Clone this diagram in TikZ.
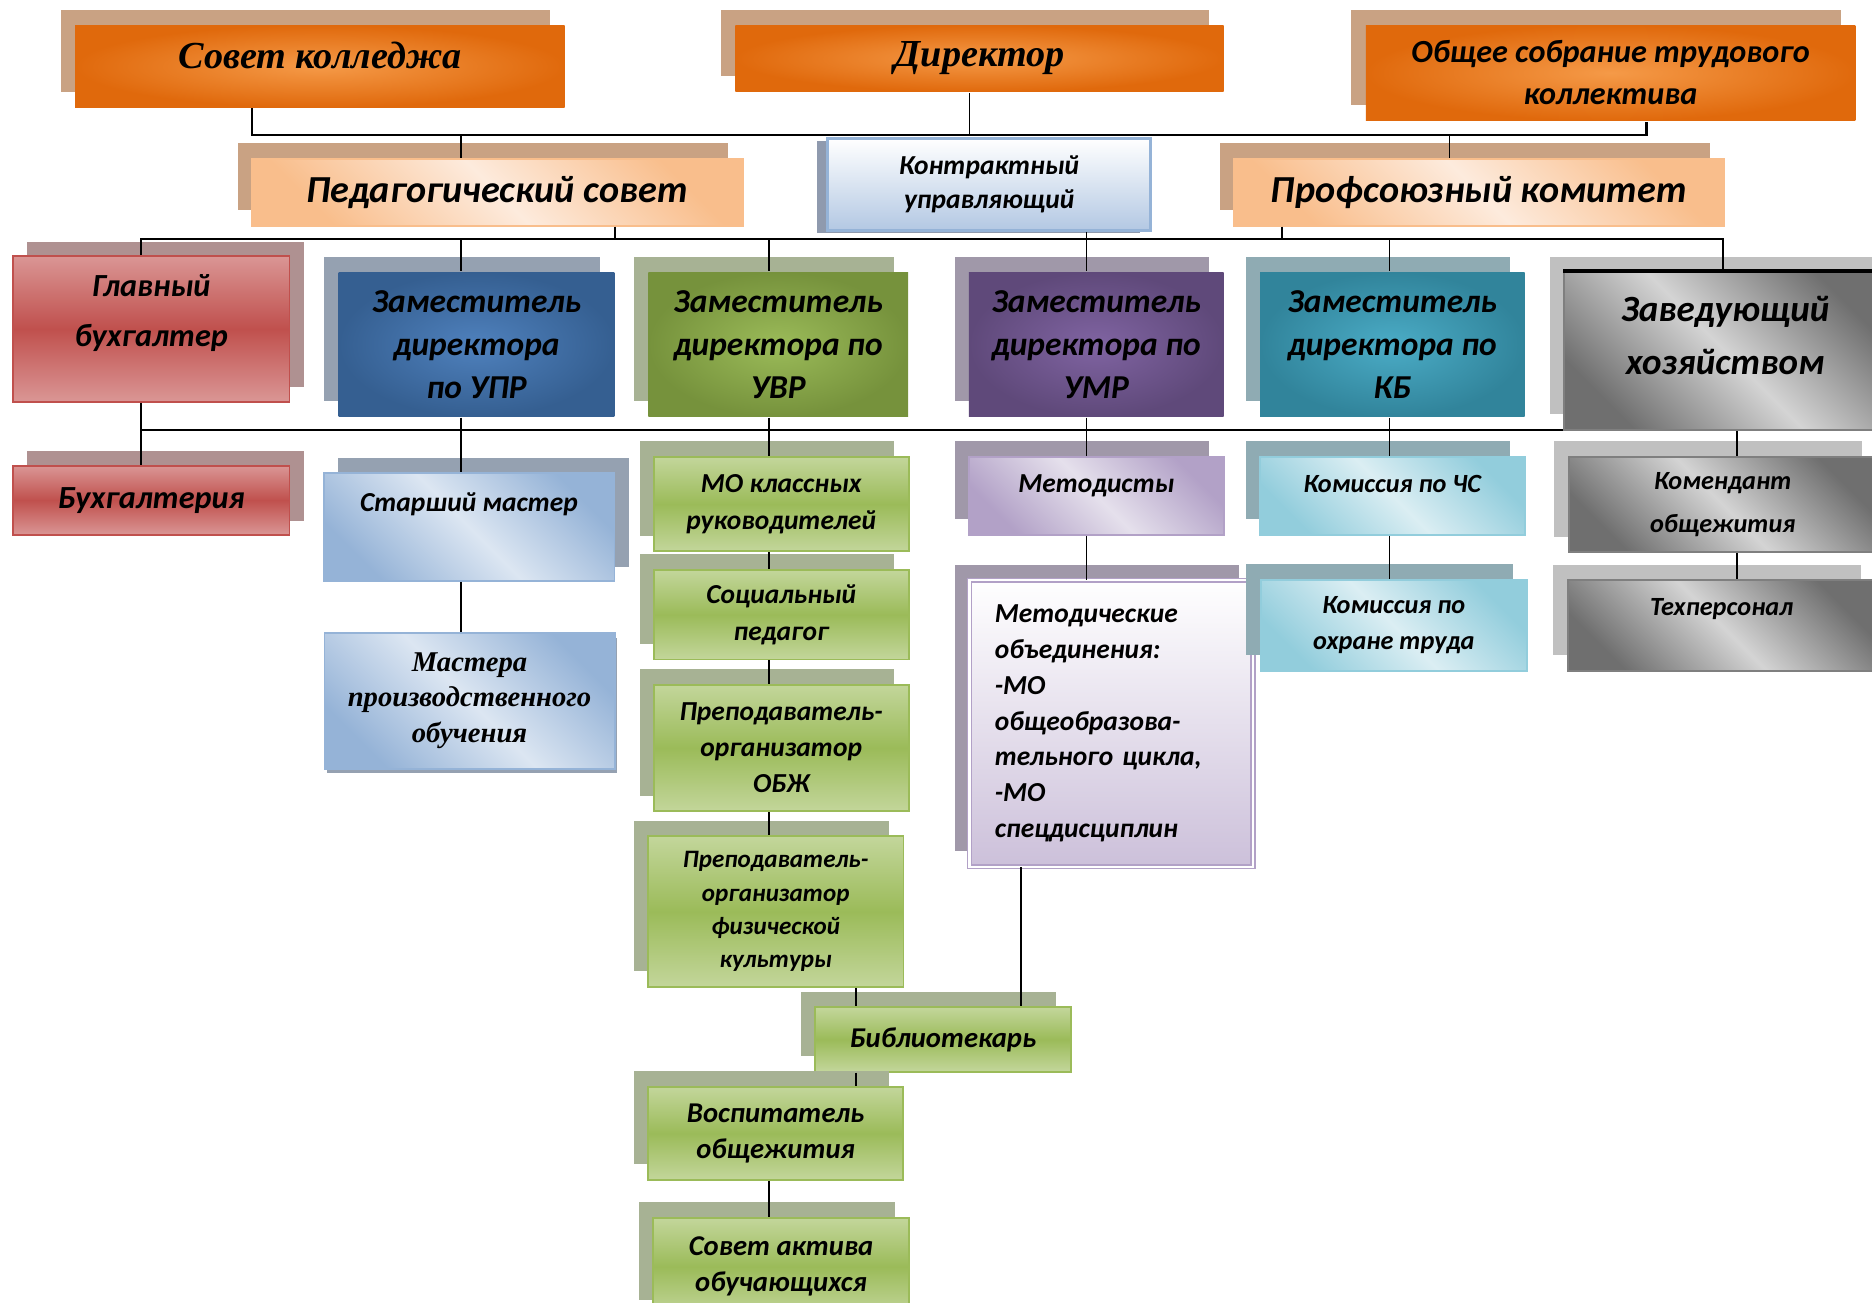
\documentclass[tikz,border=0pt]{standalone}
\usepackage{fontspec}
\setmainfont{Carlito}
\newfontfamily\serifbi{Liberation Serif}
\usetikzlibrary{shadows}
\definecolor{orangedark}{HTML}{E0690C}
\definecolor{orangelight}{HTML}{F59A48}
\definecolor{tan}{HTML}{C9A283}
\definecolor{peach}{HTML}{F9BE8C}
\definecolor{peachlight}{HTML}{FDEBDD}
\definecolor{ctrblue}{HTML}{B3C8E3}
\definecolor{ctredge}{HTML}{95B3D7}
\definecolor{ctrshadow}{HTML}{8F9AAE}
\definecolor{reddark}{HTML}{C0504D}
\definecolor{redlight}{HTML}{DA9695}
\definecolor{redshadow}{HTML}{AF9191}
\definecolor{bluedark}{HTML}{355F91}
\definecolor{bluemid}{HTML}{4F81BD}
\definecolor{blueshadow}{HTML}{95A1B1}
\definecolor{bluepale}{HTML}{DCE6F2}
\definecolor{bluesoft}{HTML}{95B3D7}
\definecolor{greendark}{HTML}{76923C}
\definecolor{greenmid}{HTML}{9BBB59}
\definecolor{greenpale}{HTML}{C3D69B}
\definecolor{greenshadow}{HTML}{A7B294}
\definecolor{purpledark}{HTML}{5F497A}
\definecolor{purplemid}{HTML}{8064A2}
\definecolor{purplepale}{HTML}{E5E0EC}
\definecolor{lavender}{HTML}{B2A1C7}
\definecolor{purpleshadow}{HTML}{A098A9}
\definecolor{metlow}{HTML}{CCC0DA}
\definecolor{tealdark}{HTML}{31849B}
\definecolor{tealmid}{HTML}{4BACC6}
\definecolor{tealpale}{HTML}{DBEEF3}
\definecolor{tealsoft}{HTML}{92CDDC}
\definecolor{tealshadow}{HTML}{8FABB3}
\definecolor{greydark}{HTML}{6F6F6F}
\definecolor{greylight}{HTML}{D4D4D4}
\definecolor{greyshadow}{HTML}{C0C0C0}
\definecolor{greyedge}{HTML}{7F7F7F}
\tikzset{
  sz/.style 2 args={
    font=\fontsize{#1}{#2}\selectfont\bfseries\itshape
  },
  serif/.style 2 args={
    font=\fontsize{#1}{#2}\selectfont\serifbi\bfseries\itshape
  },
  box/.style={
    inner sep=0pt,
    align=center,
    line width=1.6pt
  },
  upshadow/.style={
    general shadow={fill=#1, shadow xshift=-12pt, shadow yshift=13pt}
  },
  rightshadow/.style={
    general shadow={fill=#1, shadow xshift=12pt, shadow yshift=12pt}
  },
  topbox/.style={
    box,
    inner color=orangelight,
    outer color=orangedark,
    upshadow=tan
  },
  councilbox/.style={
    box,
    draw=peach,
    left color=peach,
    right color=peach,
    middle color=peachlight,
    shading angle=-45,
    upshadow=tan
  },
  managerbox/.style={
    box,
    draw=ctredge,
    line width=2.5pt,
    top color=white,
    bottom color=ctrblue,
    general shadow={fill=ctrshadow, shadow xshift=-9pt, shadow yshift=-2pt}
  },
  redbox/.style={
    box,
    draw=reddark,
    top color=redlight,
    bottom color=redlight,
    middle color=reddark,
    rightshadow=redshadow
  },
  deputy/.style n args={3}{
    box,
    inner color=#1,
    outer color=#2,
    upshadow=#3
  },
  softbox/.style 2 args={
    box,
    draw=#1,
    left color=#1,
    right color=#1,
    middle color=#2,
    shading angle=-45
  },
  greenbox/.style={
    box,
    draw=greenmid,
    top color=greenpale,
    bottom color=greenpale,
    middle color=greenmid,
    upshadow=greenshadow
  },
  greybox/.style={
    box,
    draw=greyedge,
    left color=greydark,
    right color=greydark,
    middle color=greylight,
    shading angle=-45,
    upshadow=greyshadow
  },
  conn/.style={
    draw=black,
    line width=1.3pt
  },
  bar/.style={
    draw=black,
    line width=2pt
  }
}

\begin{document}
\begin{tikzpicture}[x=1pt, y=-1pt]
  \clip (0,0) rectangle (1568,1091);

  % governing bodies
  \node[topbox, serif={32}{38}, minimum width=410pt, minimum height=69pt, text depth=19pt] (sovet) at (268,55.5) {Совет колледжа};
  \node[topbox, serif={32}{38}, minimum width=409pt, minimum height=56pt] (director) at (820.5,49) {Директор};
  \node[topbox, sz={27}{35}, minimum width=410pt, minimum height=80pt] (obshee) at (1349,61) {Общее собрание трудового\\коллектива};

  \node[councilbox, sz={32}{38}, minimum width=411pt, minimum height=56pt] (pedsovet) at (416.5,161) {Педагогический совет};
  \node[managerbox, sz={23}{28}, minimum width=271pt, minimum height=77pt] (manager) at (828.5,154.5) {Контрактный\\управляющий};
  \node[councilbox, sz={32}{38}, minimum width=410.5pt, minimum height=56pt] (profkom) at (1238.75,161) {Профсоюзный комитет};

  % deputies
  \node[redbox, sz={27}{42}, minimum width=231.5pt, minimum height=122pt, text depth=30pt] (glbuh) at (126.75,275.4) {Главный\\бухгалтер};
  \node[deputy={bluemid}{bluedark}{blueshadow}, sz={28}{36}, minimum width=231pt, minimum height=121pt] (upr) at (399.2,288.5) {Заместитель\\директора\\по УПР};
  \node[deputy={greenmid}{greendark}{greenshadow}, sz={28}{36}, minimum width=217.7pt, minimum height=121pt] (uvr) at (651.85,288.5) {Заместитель\\директора по\\УВР};
  \node[deputy={purplemid}{purpledark}{purpleshadow}, sz={28}{36}, minimum width=213.4pt, minimum height=121pt] (umr) at (918.3,288.5) {Заместитель\\директора по\\УМР};
  \node[deputy={tealmid}{tealdark}{tealshadow}, sz={28}{36}, minimum width=221.5pt, minimum height=121pt] (kb) at (1166.25,288.5) {Заместитель\\директора по\\КБ};
  \node[greybox, sz={31}{44}, minimum width=270pt, minimum height=132pt, text depth=26pt] (zavhoz) at (1445,294) {Заведующий\\хозяйством};
  \draw[line width=3pt] (zavhoz.north west) -- (zavhoz.north east);

  % departments
  \node[redbox, sz={27}{34}, minimum width=231.5pt, minimum height=58pt] (buh) at (126.75,419) {Бухгалтерия};
  \node[softbox={bluesoft}{bluepale}, rightshadow=blueshadow, sz={23}{30}, minimum width=243.7pt, minimum height=90.6pt, text depth=42pt] (stmaster) at (392.85,441.3) {Старший мастер};
  \node[softbox={bluesoft}{bluepale}, general shadow={fill=blueshadow, shadow xshift=2pt, shadow yshift=-4pt}, serif={24}{30}, minimum width=243pt, minimum height=113.7pt] (mastera) at (393.3,586.9) {Мастера\\производственного\\обучения};

  \node[greenbox, sz={23}{31}, minimum width=213.3pt, minimum height=79pt] (mokl) at (654.35,422.3) {МО классных\\руководителей};
  \node[greenbox, sz={23}{31}, minimum width=213.3pt, minimum height=75pt] (socped) at (654.35,514.9) {Социальный\\педагог};
  \node[greenbox, sz={23}{30}, minimum width=213.3pt, minimum height=106.2pt] (obzh) at (654.35,626.5) {Преподаватель-\\организатор\\ОБЖ};
  \node[greenbox, sz={21}{28}, minimum width=214.1pt, minimum height=126.2pt] (fk) at (649.75,763.6) {Преподаватель-\\организатор\\физической\\культуры};
  \node[greenbox, sz={24}{30}, minimum width=213.7pt, minimum height=53.9pt] (bibl) at (789.85,870.65) {Библиотекарь};
  \node[greenbox, sz={24}{30}, minimum width=213.7pt, minimum height=77.9pt] (vosp) at (649.65,949.35) {Воспитатель\\общежития};
  \node[greenbox, sz={24}{30}, minimum width=214.5pt, minimum height=82pt] (aktiv) at (654.25,1061) {Совет актива\\обучающихся};

  \node[softbox={lavender}{purplepale}, upshadow=purpleshadow, sz={23}{30}, minimum width=213.4pt, minimum height=65.5pt, text depth=20pt] (metodisty) at (918.3,415.25) {Методисты};
  \node[box, draw=lavender, double=white, double distance=2pt, line width=1.2pt, top color=white, bottom color=metlow, upshadow=purpleshadow, sz={23}{30}, align=left, text width=195pt, minimum width=237.5pt, minimum height=240pt] (metob) at (930.75,606) {Методические\\объединения:\\-МО\\общеобразова-\\тельного цикла,\\-МО\\спецдисциплин};

  \node[softbox={tealsoft}{tealpale}, upshadow=tealshadow, sz={22}{30}, minimum width=221.5pt, minimum height=65.5pt, text depth=20pt] (kchs) at (1166.25,415.25) {Комиссия по ЧС};
  \node[softbox={tealsoft}{tealpale}, upshadow=tealshadow, sz={22}{30}, minimum width=223pt, minimum height=76.2pt] (kot) at (1167.5,523.9) {Комиссия по\\охране труда};

  \node[greybox, sz={22}{36}, minimum width=258pt, minimum height=80pt] (komend) at (1443,422.5) {Комендант\\общежития};
  \node[greybox, sz={22}{30}, minimum width=258pt, minimum height=76pt, text depth=32pt] (tehpers) at (1442,524) {Техперсонал};

  % first level
  \coordinate (j1) at (211,113);
  \coordinate (j2) at (1379,113);
  \coordinate (j3) at (812,113);
  \coordinate (j4) at (386,113);
  \coordinate (j5) at (1214,113);
  \draw[bar] (sovet.south -| j1) -- (j1) -- (j2) -- (obshee.south -| j2);
  \draw[conn] (director.south -| j3) -- (j3);
  \draw[conn] (j4) -- (pedsovet.north -| j4);
  \draw[conn] (j5) -- (profkom.north -| j5);

  % second level
  \coordinate (k1) at (118,200);
  \coordinate (k2) at (1443,200);
  \coordinate (k3) at (515,200);
  \coordinate (k4) at (1074,200);
  \coordinate (k5) at (910,200);
  \coordinate (k6) at (386,200);
  \coordinate (k7) at (644,200);
  \coordinate (k8) at (1164,200);
  \draw[bar] (glbuh.north -| k1) -- (k1) -- (k2) -- (zavhoz.north -| k2);
  \draw[conn] (pedsovet.south -| k3) -- (k3);
  \draw[conn] (profkom.south -| k4) -- (k4);
  \draw[conn] (manager.south -| k5) -- (umr.north -| k5);
  \draw[conn] (k6) -- (upr.north -| k6);
  \draw[conn] (k7) -- (uvr.north -| k7);
  \draw[conn] (k8) -- (kb.north -| k8);

  % third level
  \coordinate (l1) at (118,360);
  \coordinate (l2) at (1455,360);
  \draw[bar] (l1) -- (zavhoz.west |- l1);
  \draw[conn] (glbuh.south -| l1) -- (buh.north -| l1);
  \draw[conn] (upr.south -| k6) -- (stmaster.north -| k6);
  \draw[conn] (stmaster.south -| k6) -- (mastera.north -| k6);
  \draw[conn] (uvr.south -| k7) -- (mokl.north -| k7);
  \draw[conn] (mokl.south -| k7) -- (socped.north -| k7);
  \draw[conn] (socped.south -| k7) -- (obzh.north -| k7);
  \draw[conn] (obzh.south -| k7) -- (fk.north -| k7);
  \draw[conn] (umr.south -| k5) -- (metodisty.north -| k5);
  \draw[conn] (metodisty.south -| k5) -- (metob.north -| k5);
  \draw[conn] (kb.south -| k8) -- (kchs.north -| k8);
  \draw[conn] (kchs.south -| k8) -- (kot.north -| k8);
  \draw[conn] (zavhoz.south -| l2) -- (komend.north -| l2);
  \draw[conn] (komend.south -| l2) -- (tehpers.north -| l2);

  % lower chain
  \coordinate (m1) at (717,870);
  \coordinate (m2) at (855,870);
  \draw[conn] (fk.south -| m1) -- (bibl.north -| m1);
  \draw[conn] (metob.south -| m2) -- (bibl.north -| m2);
  \draw[conn] (bibl.south -| m1) -- (vosp.north -| m1);
  \draw[conn] (vosp.south -| k7) -- (aktiv.north -| k7);
\end{tikzpicture}
\end{document}
